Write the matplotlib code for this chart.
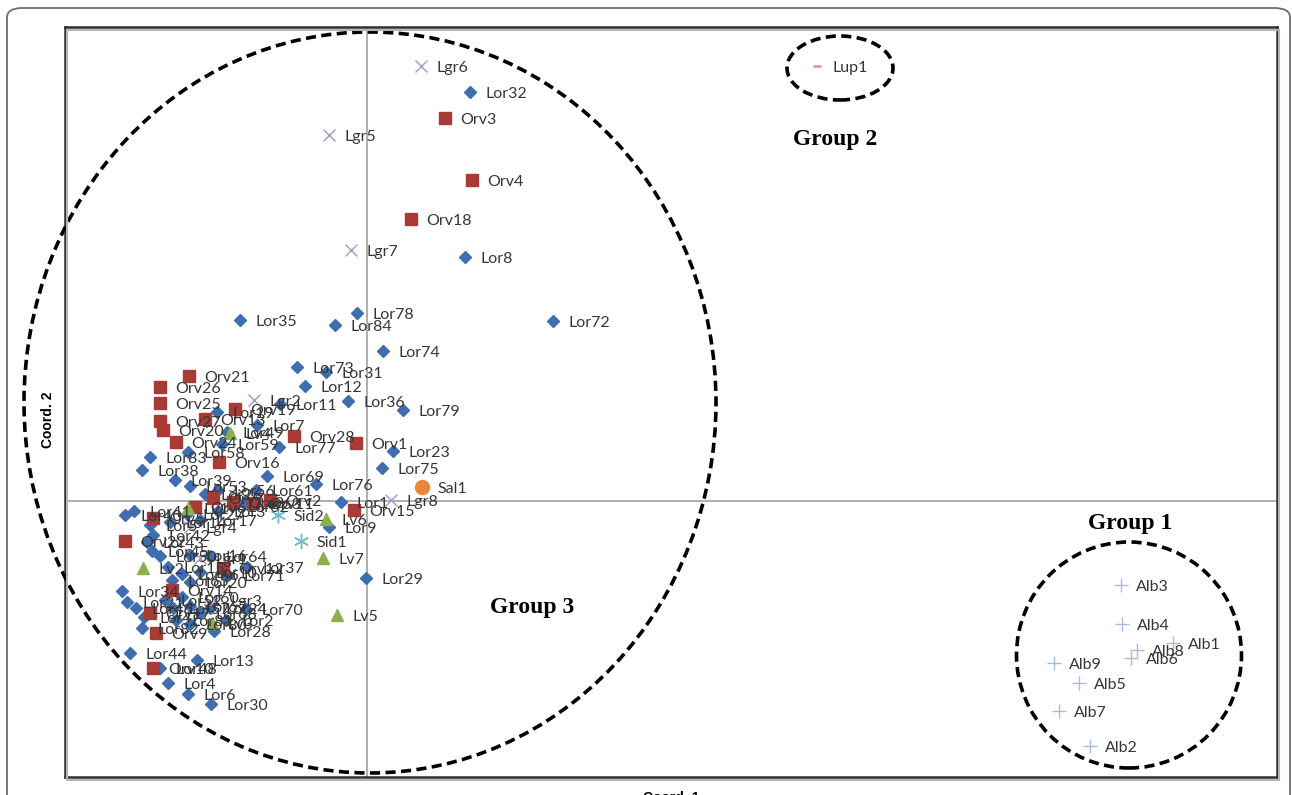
import matplotlib
matplotlib.use('Agg')
import matplotlib.pyplot as plt
from matplotlib.patches import Ellipse, FancyBboxPatch, Rectangle

plt.rcParams['font.family'] = ['Lato', 'DejaVu Sans']

# 主坐标分析结果（Coord.1, Coord.2）
lor_names = ['Lor32', 'Lor8', 'Lor72', 'Lor35', 'Lor84', 'Lor78', 'Lor74', 'Lor73', 'Lor31', 'Lor12',
             'Lor11', 'Lor36', 'Lor79', 'Lor23', 'Lor75', 'Lor77', 'Lor69', 'Lor76', 'Lor1', 'Lor9',
             'Lor29', 'Lor61', 'Lor56', 'Lor19', 'Lor7', 'Lor49', 'Lor59', 'Lor58', 'Lor83', 'Lor38',
             'Lor39', 'Lor53', 'Lor26', 'Lor40', 'Lor41', 'Lor5', 'Lor42', 'Lor43', 'Lor45', 'Lor14',
             'Lor27', 'Lor17', 'Lor3', 'Lor62', 'Lor63', 'Lor50', 'Lor15', 'Lor16', 'Lor64', 'Lor65',
             'Lor66', 'Lor71', 'Lor37', 'Lor10', 'Lor20', 'Lor34', 'Lor21', 'Lor46', 'Lor47', 'Lor52',
             'Lor57', 'Lor60', 'Lor67', 'Lor68', 'Lor24', 'Lor2', 'Lor70', 'Lor28', 'Lor80', 'Lor81',
             'Lor82', 'Lor44', 'Lor48', 'Lor13', 'Lor4', 'Lor6', 'Lor30']
lor_c1 = [1.03, 0.98, 1.86, -1.27, -0.32, -0.10, 0.16, -0.70, -0.41, -0.62,
          -0.87, -0.19, 0.36, 0.26, 0.15, -0.88, -1.00, -0.51, -0.26, -0.38,
          -0.01, -1.11, -1.49, -1.50, -1.10, -1.40, -1.45, -1.79, -2.17, -2.25,
          -1.92, -1.77, -1.62, -2.42, -2.33, -2.17, -2.14, -2.20, -2.15, -1.97,
          -1.80, -1.67, -1.49, -1.35, -1.23, -2.07, -1.99, -1.77, -1.57, -1.95,
          -1.85, -1.39, -1.20, -1.67, -1.77, -2.45, -2.40, -2.31, -2.23, -2.02,
          -1.94, -1.85, -1.77, -1.67, -1.57, -1.41, -1.21, -1.53, -1.77, -1.91,
          -2.25, -2.37, -2.07, -1.70, -1.99, -1.79, -1.56]
lor_c2 = [4.09, 2.44, 1.80, 1.81, 1.76, 1.88, 1.50, 1.34, 1.29, 1.15,
          0.97, 1.00, 0.91, 0.50, 0.33, 0.54, 0.25, 0.17, -0.01, -0.26,
          -0.77, 0.11, 0.11, 0.89, 0.76, 0.69, 0.57, 0.49, 0.44, 0.31,
          0.21, 0.15, 0.07, -0.14, -0.10, -0.24, -0.34, -0.41, -0.50, -0.21,
          -0.13, -0.19, -0.10, -0.05, -0.02, -0.55, -0.66, -0.54, -0.55, -0.79,
          -0.73, -0.74, -0.66, -0.71, -0.81, -0.90, -1.01, -1.07, -1.16, -0.99,
          -1.07, -0.96, -1.05, -1.12, -1.07, -1.19, -1.08, -1.30, -1.23, -1.19,
          -1.27, -1.52, -1.67, -1.59, -1.82, -1.93, -2.03]

orv_names = ['Orv3', 'Orv4', 'Orv18', 'Orv21', 'Orv26', 'Orv25', 'Orv27', 'Orv20', 'Orv24', 'Orv13',
             'Orv19', 'Orv16', 'Orv28', 'Orv1', 'Orv15', 'Orv2', 'Orv5', 'Orv6', 'Orv7', 'Orv8',
             'Orv11', 'Orv22', 'Orv12', 'Orv14', 'Orv17', 'Orv9', 'Orv10']
orv_c1 = [0.78, 1.05, 0.44, -1.78, -2.07, -2.07, -2.07, -2.04, -1.91, -1.62,
          -1.32, -1.48, -0.73, -0.11, -0.13, -0.97, -2.14, -1.72, -1.54, -1.34,
          -1.14, -2.42, -1.44, -1.95, -2.17, -2.11, -2.14]
orv_c2 = [3.83, 3.21, 2.82, 1.25, 1.14, 0.98, 0.80, 0.71, 0.59, 0.82,
          0.92, 0.39, 0.65, 0.58, -0.09, 0.01, -0.17, -0.06, 0.03, -0.01,
          -0.02, -0.40, -0.67, -0.89, -1.12, -1.32, -1.67]

lgr_names = ['Lgr6', 'Lgr5', 'Lgr7', 'Lgr2', 'Lgr8', 'Lgr1', 'Lgr4', 'Lgr3']
lgr_c1 = [0.54, -0.38, -0.16, -1.13, 0.24, -1.67, -1.77, -1.52]
lgr_c2 = [4.35, 3.66, 2.51, 1.01, 0.01, -0.57, -0.26, -0.99]

lv_names = ['Lv5', 'Lv7', 'Lv6', 'Lv2', 'Lv1', 'Lv3', 'Lv4']
lv_c1 = [-0.30, -0.44, -0.41, -2.24, -1.79, -1.55, -1.37]
lv_c2 = [-1.14, -0.57, -0.18, -0.67, -0.07, -1.22, 0.68]

sid_names = ['Sid1', 'Sid2']
sid_c1 = [-0.66, -0.89]
sid_c2 = [-0.40, -0.14]

sal_names = ['Sal1']
sal_c1 = [0.55]
sal_c2 = [0.14]

lup_names = ['Lup1']
lup_c1 = [4.50]
lup_c2 = [4.35]

alb_names = ['Alb3', 'Alb4', 'Alb1', 'Alb8', 'Alb6', 'Alb9', 'Alb5', 'Alb7', 'Alb2']
alb_c1 = [7.54, 7.55, 8.06, 7.70, 7.64, 6.87, 7.12, 6.92, 7.23]
alb_c2 = [-0.84, -1.23, -1.42, -1.49, -1.57, -1.62, -1.82, -2.10, -2.45]

# 分组圈：名称, 中心, 宽, 高, 标注位置
group_names = ['Group 1', 'Group 2', 'Group 3']
group_center = [(7.62, -1.54), (4.73, 4.33), (0.03, 0.985)]
group_size = [(2.25, 2.26), (1.06, 0.64), (6.92, 7.41)]
group_text_pos = [(7.63, -0.23), (4.68, 3.62), (1.65, -1.06)]


def draw_series(ax, names, c1, c2, **style):
    ax.plot(c1, c2, linestyle='none', **style)
    for name, x, y in zip(names, c1, c2):
        ax.annotate(name, (x, y), xytext=(11, -1.5), textcoords='offset points',
                    ha='left', va='center', fontsize=11.5, color='#363636')


fig = plt.figure(figsize=(12.92, 7.95), dpi=100)

# 外框（圆角）
outer = FancyBboxPatch((7 / 1292, -0.05), 1283 / 1292, 0.05 + 787 / 795,
                       boxstyle='round,pad=0,rounding_size=0.012',
                       transform=fig.transFigure, facecolor='none',
                       edgecolor='#6e6e6e', linewidth=1.3)
fig.patches.append(outer)

ax = fig.add_axes([65 / 1292, 18 / 795, 1212 / 1292, 750 / 795])

# 阴影
shadow = Rectangle((67 / 1292, 15 / 795), 1212 / 1292, 750 / 795, transform=fig.transFigure,
                   facecolor='none', edgecolor='#b5b5b5', linewidth=1.5, zorder=0)
fig.patches.append(shadow)

ax.set_xlim(-3.02, 9.10)
ax.set_ylim(-2.76, 4.74)
ax.set_xticks([])
ax.set_yticks([])
for sp in ax.spines.values():
    sp.set_color('#2e2e2e')
    sp.set_linewidth(1.8)

ax.axhline(0, color='#a8a8a8', linewidth=1.3, zorder=0)
ax.axvline(0, color='#a8a8a8', linewidth=1.3, zorder=0)

draw_series(ax, lor_names, lor_c1, lor_c2, marker='D', markersize=6.4, color='#3e6db0')
draw_series(ax, orv_names, orv_c1, orv_c2, marker='s', markersize=8.5, color='#a83b36')
draw_series(ax, lgr_names, lgr_c1, lgr_c2, marker='x', markersize=9, markeredgewidth=1.0, color='#a497c9')
draw_series(ax, lv_names, lv_c1, lv_c2, marker='^', markersize=9, color='#8cb04e')
draw_series(ax, sid_names, sid_c1, sid_c2, marker=(6, 2, 0), markersize=11, markeredgewidth=1.0, color='#6ab8d6')
draw_series(ax, sal_names, sal_c1, sal_c2, marker='o', markersize=10, color='#e9873a')
draw_series(ax, lup_names, lup_c1, lup_c2, marker='_', markersize=6, markeredgewidth=1.8, color='#e58b8b')
draw_series(ax, alb_names, alb_c1, alb_c2, marker='+', markersize=10, markeredgewidth=1.0, color='#a9bcdc')

# 分组虚线圈
for name, center, size, pos in zip(group_names, group_center, group_size, group_text_pos):
    ell = Ellipse(center, size[0], size[1], facecolor='none', edgecolor='black',
                  linewidth=2.6, linestyle=(0, (2.8, 1.5)), clip_on=False, zorder=5)
    ax.add_patch(ell)
    ax.text(pos[0], pos[1], name, ha='center', va='center', fontsize=17,
            fontweight='bold', family='Liberation Serif', color='black')

fig.text(48 / 1292, 1 - 420 / 795, 'Coord. 2', rotation=90, ha='center', va='center',
         fontsize=10, fontweight='bold', family='Liberation Sans')
fig.text(671 / 1292, 4 / 795, 'Coord. 1', ha='center', va='top',
         fontsize=10, fontweight='bold', family='Liberation Sans')

plt.savefig('out.png', dpi=100)
